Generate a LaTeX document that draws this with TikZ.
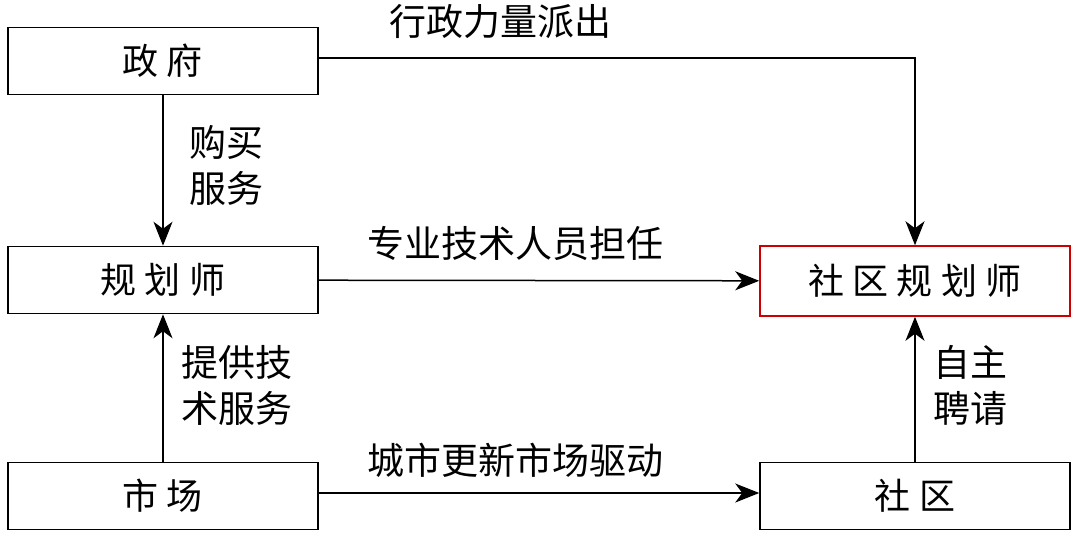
\documentclass[tikz,border=0pt]{standalone}
\usepackage{fontspec}
\newfontfamily\cjk{Noto Sans CJK SC}
\usetikzlibrary{positioning,arrows.meta}
\tikzset{>={Stealth[length=24pt,width=19pt,inset=7pt]}}
\tikzstyle{box}=[rectangle, draw=black, line width=1.5pt, minimum width=310pt, minimum height=67pt, text centered, font=\cjk\fontsize{36}{40}\selectfont]
\tikzstyle{lab}=[font=\cjk\fontsize{37}{46}\selectfont, align=left]
\begin{document}
\begin{tikzpicture}[x=1pt,y=1pt,line width=1.5pt]
    \useasboundingbox (0,0) rectangle (1080,-539);

        \node(gov)[box] at (163,-61){政\ 府};
        \node(planner)[box] at (163,-280){规\ 划\ 师};
        \node(market)[box] at (163,-496){市\ 场};
        \node(cplanner)[box, draw=red!80!black, minimum height=70pt] at (915,-281){社\ 区\ 规\ 划\ 师};
        \node(community)[box] at (915,-496){社\ 区};

        \coordinate (corner) at (915,-58);

        \draw [->] (gov) -- (planner);
        \node (buyDesc)[lab] at (226,-165){购买\\服务};

        \draw [->] (gov.east |- corner) -- (corner) -- (cplanner);
        \node (adminDesc)[lab] at (500,-22){行政力量派出};

        \draw [->] (planner) -- (cplanner);
        \node (staffDesc)[lab] at (515,-243){专业技术人员担任};

        \draw [->] (market) -- (planner);
        \node (techDesc)[lab] at (237,-385){提供技\\术服务};

        \draw [->] ([yshift=3pt]market.east) -- ([yshift=3pt]community.west);
        \node (renewDesc)[lab] at (515,-460){城市更新市场驱动};

        \draw [->] (community) -- (cplanner);
        \node (hireDesc)[lab] at (970,-385){自主\\聘请};

\end{tikzpicture}
\end{document}
